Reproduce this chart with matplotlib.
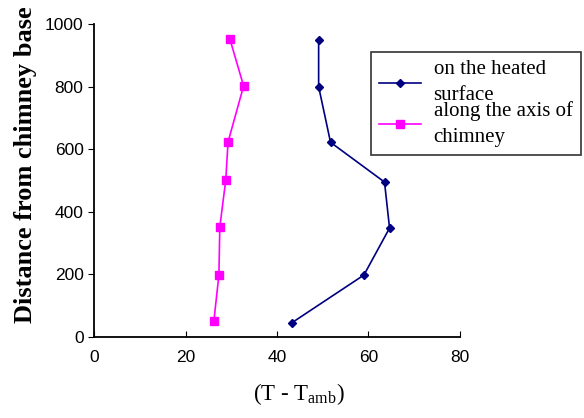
import numpy as np
import matplotlib
matplotlib.use("Agg")
import matplotlib.pyplot as plt

# distance from chimney base vs temperature rise
dist_surface = [950, 800, 622, 495, 348, 198, 45]
dt_surface = [49.1, 49.1, 51.7, 63.5, 64.6, 59.0, 43.2]

dist_axis = [952, 802, 623, 502, 351, 198, 51]
dt_axis = [29.7, 32.7, 29.3, 28.8, 27.5, 27.3, 26.2]

labels = ["on the heated\nsurface", "along the axis of\nchimney"]
x_ticks = [0, 20, 40, 60, 80]
y_ticks = [0, 200, 400, 600, 800, 1000]

plt.rcParams["mathtext.fontset"] = "custom"
plt.rcParams["mathtext.rm"] = "Liberation Serif"

fig = plt.figure(figsize=(5.84, 4.18), dpi=100)
ax = fig.add_axes([94 / 584, 81 / 418, 366 / 584, 313 / 418])

ax.plot(dt_surface, dist_surface, color="#000080", lw=1.2, marker="D",
        ms=4.5, label=labels[0])
ax.plot(dt_axis, dist_axis, color="#ff00ff", lw=1.2, marker="s",
        ms=5.5, label=labels[1])

ax.set_xlim(0, 80)
ax.set_ylim(0, 1000)
ax.set_xticks(x_ticks)
ax.set_yticks(y_ticks)
for s in ("top", "right"):
    ax.spines[s].set_visible(False)
for s in ("left", "bottom"):
    ax.spines[s].set_linewidth(1.3)
ax.tick_params(axis="y", direction="out", length=4, labelsize=12.5,
               labelfontfamily="Liberation Sans")
ax.tick_params(axis="x", direction="in", length=4, labelsize=12.5, pad=9,
               labelfontfamily="Liberation Sans")

ax.set_ylabel("Distance from chimney base", family="Liberation Serif",
              fontweight="bold", fontsize=19, labelpad=0)
ax.yaxis.set_label_coords(-57 / 366, 0.55)
ax.set_xlabel(r"(T - T$_{\mathrm{amb}}$)", family="Liberation Serif",
              fontsize=16.5, labelpad=10)
ax.xaxis.set_label_coords(0.56, -0.14)

leg = ax.legend(loc="upper left", bbox_to_anchor=(371 / 584, 1 - 52 / 418),
                bbox_transform=fig.transFigure, frameon=True, fancybox=False,
                prop={"family": "Liberation Serif", "size": 15},
                handlelength=2.0, handletextpad=0.6, labelspacing=-0.2,
                borderpad=0.4, borderaxespad=0)
for t in leg.get_texts():
    t.set_linespacing(1.5)
leg.get_frame().set_edgecolor("black")
leg.get_frame().set_linewidth(1.2)

fig.savefig("out.png", dpi=100)
